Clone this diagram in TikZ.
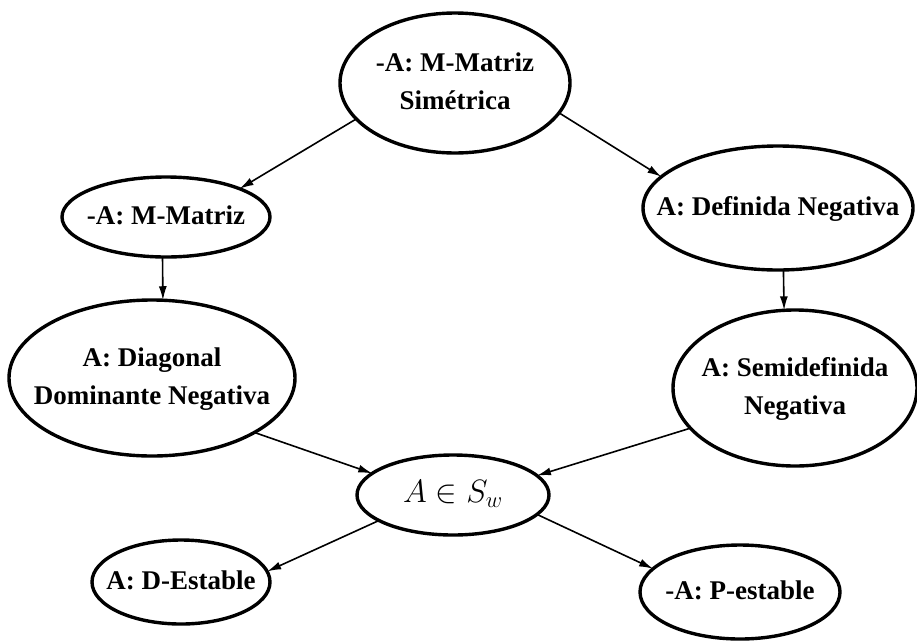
\documentclass[tikz,border=0pt]{standalone}
\usepackage{fontspec}
\setmainfont{Liberation Serif}
\usetikzlibrary{arrows.meta,shapes.geometric}
\tikzset{
  ell/.style={draw=black, line width=3.4pt, shape=ellipse, inner sep=0pt, outer sep=0pt,
    font=\fontsize{27}{38}\selectfont\bfseries},
  conn/.style={draw=black, line width=1.6pt, -{Latex[length=14pt,width=8pt]}},
}
\newcommand{\ctext}[2][0pt]{\makebox[0pt]{\raisebox{#1}{\begin{tabular}{@{}c@{}}#2\end{tabular}}}}
\begin{document}
\begin{tikzpicture}[x=1pt,y=-1pt]
\useasboundingbox (0,0) rectangle (917,643);
\node[ell, minimum width=230pt, minimum height=140pt] (top) at (455,83) {\ctext{-A: M-Matriz\\Simétrica}};
\node[ell, minimum width=208pt, minimum height=80pt] (mm) at (166,217) {\ctext{-A: M-Matriz}};
\node[ell, minimum width=270pt, minimum height=124pt] (def) at (778,208) {\ctext{A: Definida Negativa}};
\node[ell, minimum width=286pt, minimum height=156pt] (diag) at (152,378) {\ctext[10pt]{A: Diagonal\\Dominante Negativa}};
\node[ell, minimum width=244pt, minimum height=156pt] (semi) at (795,388) {\ctext{A: Semidefinida\\Negativa}};
\node[ell, minimum width=192pt, minimum height=80pt] (sw) at (453,495) {\ctext{\mdseries\scalebox{1.3}{$A\in S_w$}}};
\node[ell, minimum width=178pt, minimum height=84pt] (dest) at (181,582) {\ctext{A: D-Estable}};
\node[ell, minimum width=200pt, minimum height=94pt] (pest) at (740,592) {\ctext{-A: P-estable}};
\draw[conn] (top.200) -- (mm.21);
\draw[conn] (top.344) -- (def.165.5);
\draw[conn] (mm.265.7) -- (diag.82);
\draw[conn] (def.275.5) -- (semi.98);
\draw[conn] (diag.332.6) -- (sw.165.8);
\draw[conn] (semi.201.4) -- (sw.13.2);
\draw[conn] (sw.199.6) -- (dest.7.5);
\draw[conn] (sw.347.3) -- (pest.165.2);
\end{tikzpicture}
\end{document}
